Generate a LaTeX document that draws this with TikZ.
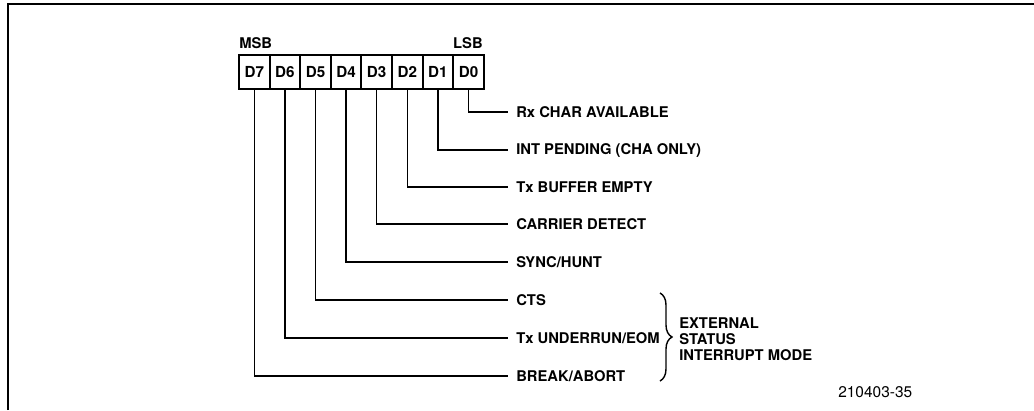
\documentclass[tikz,border=0pt]{standalone}
\usepackage{fontspec}
\setmainfont{TeX Gyre Heros}
\usepackage{tikz}
\usetikzlibrary{decorations.pathreplacing}

\begin{document}
\begin{tikzpicture}[
    x=0.025cm, y=-0.025cm,
    bitcell/.style={draw, line width=1.5pt, minimum width=0.765cm, minimum height=0.85cm, inner sep=0pt, font=\fontsize{10.8}{12}\selectfont\bfseries},
    lbl/.style={anchor=west, inner xsep=0.2cm, inner ysep=0pt, font=\fontsize{10.5}{12}\selectfont\bfseries},
    conn/.style={line width=1pt},
    brc/.style={decorate, decoration={brace, amplitude=0.3cm}, line width=1pt}
]
\useasboundingbox (0,0) rectangle (1034,410);
\draw[line width=0.9pt] (8,410) -- (8,4) -- (1034,4);
% status register bits
\node[bitcell] (d7) at (254.3,72) {D7};
\node[bitcell] (d6) at (284.9,72) {D6};
\node[bitcell] (d5) at (315.5,72) {D5};
\node[bitcell] (d4) at (346.1,72) {D4};
\node[bitcell] (d3) at (376.7,72) {D3};
\node[bitcell] (d2) at (407.3,72) {D2};
\node[bitcell] (d1) at (437.9,72) {D1};
\node[bitcell] (d0) at (468.5,72) {D0};
\node[anchor=west, inner sep=0pt, font=\fontsize{10.5}{12}\selectfont\bfseries] (msb) at (239,43) {MSB};
\node[anchor=east, inner sep=0pt, font=\fontsize{10.5}{12}\selectfont\bfseries] (lsb) at (483,43) {LSB};
% bit meanings
\node[lbl] (rx) at (508,112) {Rx CHAR AVAILABLE};
\node[lbl] (ip) at (508,150) {INT PENDING (CHA ONLY)};
\node[lbl] (tbe) at (508,187) {Tx BUFFER EMPTY};
\node[lbl] (cd) at (508,224) {CARRIER DETECT};
\node[lbl] (sh) at (508,262) {SYNC/HUNT};
\node[lbl] (cts) at (508,300) {CTS};
\node[lbl] (txu) at (508,338) {Tx UNDERRUN/EOM};
\node[lbl] (brk) at (508,376) {BREAK/ABORT};
\draw[conn] (d0.south) |- (rx.west);
\draw[conn] (d1.south) |- (ip.west);
\draw[conn] (d2.south) |- (tbe.west);
\draw[conn] (d3.south) |- (cd.west);
\draw[conn] (d4.south) |- (sh.west);
\draw[conn] (d5.south) |- (cts.west);
\draw[conn] (d6.south) |- (txu.west);
\draw[conn] (d7.south) |- (brk.west);
% external/status group
\coordinate (bt) at (660,293);
\coordinate (bb) at (660,381);
\draw[brc] (bt) -- (bb);
\node[anchor=west, align=left, inner sep=0pt, font=\fontsize{10.5}{11.5}\selectfont\bfseries] (ext) at (679,339) {EXTERNAL\\STATUS\\INTERRUPT MODE};
\node[anchor=west, inner sep=0pt, font=\fontsize{11}{12}\selectfont] (fig) at (838,392) {210403-35};
\end{tikzpicture}
\end{document}
